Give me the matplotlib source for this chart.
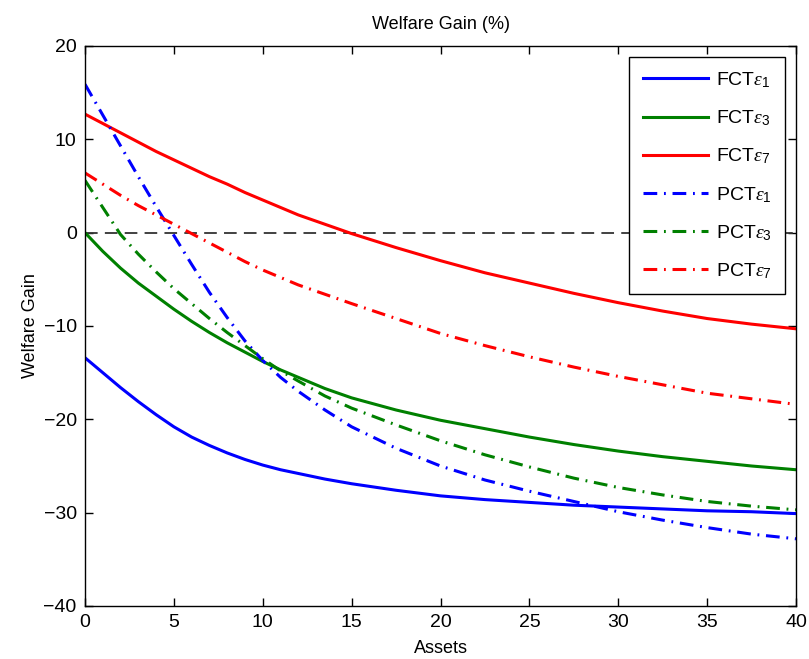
import matplotlib
matplotlib.use('Agg')
import matplotlib.pyplot as plt
import numpy as np

plt.rcParams['font.family'] = ['Liberation Sans', 'DejaVu Sans']
plt.rcParams['mathtext.fontset'] = 'custom'
plt.rcParams['mathtext.rm'] = 'Liberation Sans'
plt.rcParams['mathtext.it'] = 'Liberation Serif:italic'

assets = [0, 1, 2, 3, 4, 5, 6, 7, 8, 9, 10, 11, 12, 13.5, 15, 17.5, 20, 22.5, 25, 27.5, 30, 32.5, 35, 37.5, 40]

fct_e1 = [-13.4, -15.0, -16.6, -18.1, -19.5, -20.8, -21.9, -22.8, -23.6, -24.3, -24.9, -25.4, -25.8, -26.4, -26.9, -27.6, -28.2, -28.6, -28.9, -29.2, -29.4, -29.6, -29.8, -29.9, -30.1]
fct_e3 = [0.0, -2.0, -3.8, -5.4, -6.8, -8.2, -9.5, -10.7, -11.8, -12.8, -13.8, -14.7, -15.5, -16.7, -17.7, -19.0, -20.1, -21.0, -21.9, -22.7, -23.4, -24.0, -24.5, -25.0, -25.4]
fct_e7 = [12.7, 11.7, 10.7, 9.7, 8.7, 7.8, 6.9, 6.0, 5.2, 4.3, 3.5, 2.7, 1.9, 0.9, -0.1, -1.6, -3.0, -4.3, -5.4, -6.5, -7.5, -8.4, -9.2, -9.8, -10.3]
pct_e1 = [15.9, 12.6, 9.3, 6.0, 2.8, -0.3, -3.4, -6.4, -9.1, -11.6, -13.7, -15.5, -17.0, -19.0, -20.8, -23.1, -25.0, -26.5, -27.7, -28.8, -29.9, -30.8, -31.6, -32.3, -32.8]
pct_e3 = [5.6, 2.7, -0.2, -2.3, -4.2, -6.0, -7.6, -9.2, -10.7, -12.1, -13.5, -14.8, -15.9, -17.5, -18.8, -20.6, -22.3, -23.8, -25.1, -26.3, -27.3, -28.1, -28.8, -29.3, -29.7]
pct_e7 = [6.4, 5.2, 4.0, 2.9, 1.9, 0.9, -0.1, -1.1, -2.1, -3.1, -4.0, -4.8, -5.6, -6.6, -7.6, -9.2, -10.8, -12.1, -13.3, -14.4, -15.4, -16.3, -17.2, -17.8, -18.4]

labels = [r'FCT$\mathit{\varepsilon}_1$', r'FCT$\mathit{\varepsilon}_3$', r'FCT$\mathit{\varepsilon}_7$',
          r'PCT$\mathit{\varepsilon}_1$', r'PCT$\mathit{\varepsilon}_3$', r'PCT$\mathit{\varepsilon}_7$']
colors = ['#0000ff', '#008000', '#ff0000']

fig = plt.figure(figsize=(8.09, 6.59), dpi=100)
ax = fig.add_axes([85 / 809, 53 / 659, 711 / 809, 560 / 659])

ax.axhline(0, color='#333333', ls=(0, (7, 4)), lw=1.3)

series = [fct_e1, fct_e3, fct_e7]
for vals, c, lab in zip(series, colors, labels[:3]):
    ax.plot(assets, vals, color=c, lw=2.2, label=lab)
series = [pct_e1, pct_e3, pct_e7]
for vals, c, lab in zip(series, colors, labels[3:]):
    ax.plot(assets, vals, color=c, lw=2.2, ls=(0, (4.5, 2.2, 0.6, 2.2)), label=lab)

ax.set_xlim(0, 40)
ax.set_ylim(-40, 20)
ax.set_xticks(np.arange(0, 41, 5))
ax.set_yticks(np.arange(-40, 21, 10))
ax.set_yticklabels(['\u221240', '\u221230', '\u221220', '\u221210', '0', '10', '20'])
ax.tick_params(direction='in', length=6, labelsize=14, top=True, right=True, width=1, pad=6)
for s in ax.spines.values():
    s.set_linewidth(1)

ax.set_title('Welfare Gain (%)', fontsize=13, pad=12)
ax.set_xlabel('Assets', fontsize=13, labelpad=6)
ax.set_ylabel('Welfare Gain', fontsize=13, labelpad=3)

leg = ax.legend(loc='upper right', fontsize=14, fancybox=False, framealpha=1,
                edgecolor='k', handlelength=3.35, borderaxespad=0.55,
                labelspacing=0.95, handletextpad=0.4, borderpad=0.7)
leg.get_frame().set_linewidth(1)

fig.savefig('out.png', dpi=100)
